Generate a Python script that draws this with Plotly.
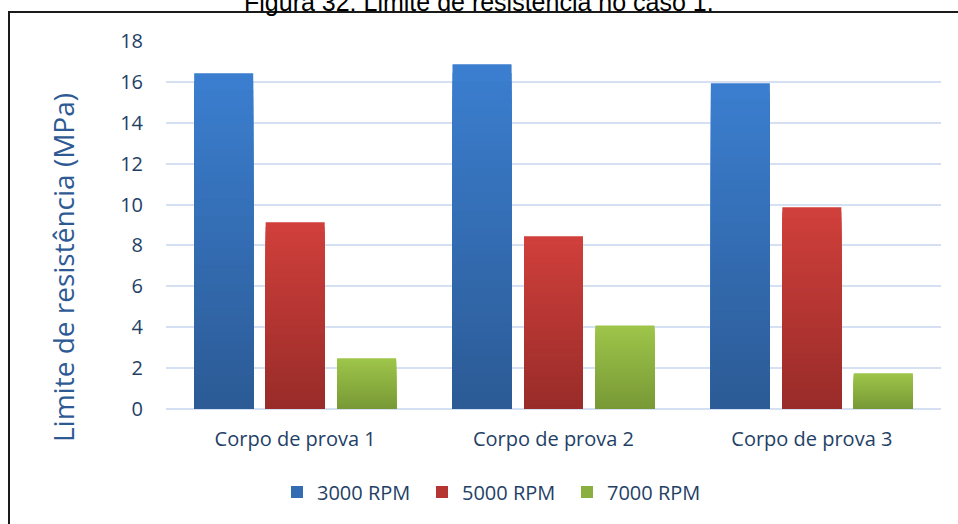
import plotly.graph_objects as go

# Data
categories = ["Corpo de prova 1", "Corpo de prova 2", "Corpo de prova 3"]
series_names = ["3000 RPM", "5000 RPM", "7000 RPM"]
rpm_3000 = [16.42, 16.86, 15.93]
rpm_5000 = [9.13, 8.45, 9.87]
rpm_7000 = [2.48, 4.09, 1.75]
y_ticks = [0, 2, 4, 6, 8, 10, 12, 14, 16, 18]

# Gradient end colours per series (top, bottom)
gradients = [
    ((0x3B, 0x7E, 0xCF), (0x2C, 0x5B, 0x96)),
    ((0xD0, 0x3F, 0x3B), (0x99, 0x2C, 0x29)),
    ((0x9E, 0xC5, 0x4A), (0x78, 0x99, 0x36)),
]

W, H = 958, 524
L, R, T, B = 166, 17, 41, 115
plot_w = W - L - R
plot_h = H - T - B


def px_x(p):
    return (p - L) / plot_w


def px_y(p):
    return (H - B - p) / plot_h


def mix(c1, c2, t):
    return "rgb(%d,%d,%d)" % tuple(round(a + (b - a) * t) for a, b in zip(c1, c2))


fig = go.Figure()

N = 40
all_series = [rpm_3000, rpm_5000, rpm_7000]
for s, (name, vals, (top, bot)) in enumerate(zip(series_names, all_series, gradients)):
    group = "g%d" % s
    # soft drop shadow under each bar
    fig.add_trace(go.Bar(
        x=categories, y=[v + 0.12 for v in vals], base=[-0.16] * 3,
        offsetgroup=group, marker=dict(color="rgba(0,0,0,0.16)", line=dict(width=0)),
        showlegend=False, hoverinfo="skip",
    ))
    # layered bars: each shorter layer is darker, giving a vertical gradient
    for k in range(N):
        frac = k / N
        t = k / (N - 1)
        fig.add_trace(go.Bar(
            x=categories, y=[v * (1 - frac) for v in vals],
            offsetgroup=group, legendgroup=group, name=name,
            marker=dict(color=mix(top, bot, t), line=dict(width=0)),
            showlegend=(k == N // 2),
            hoverinfo="skip" if k else "x+y+name",
        ))

tick_font = dict(family="Open Sans", size=20, color="#243F66")

fig.update_layout(
    width=W, height=H,
    margin=dict(l=L, r=R, t=T, b=B),
    paper_bgcolor="white", plot_bgcolor="white",
    barmode="group", bargap=0.17, bargroupgap=0.175,
    font=dict(family="Open Sans", color="#243F66"),
    xaxis=dict(
        showgrid=False, showline=False, ticks="", tickfont=tick_font,
        ticklabelstandoff=16,
    ),
    yaxis=dict(
        range=[0, 18], tickvals=y_ticks, tickfont=tick_font,
        showgrid=True, gridcolor="#D5E1F3", gridwidth=2,
        zeroline=True, zerolinecolor="#D5E1F3", zerolinewidth=2,
        showline=False, ticks="", ticklabelstandoff=22,
    ),
    legend=dict(
        orientation="h", x=px_x(277), xanchor="left",
        y=px_y(492), yanchor="middle",
        font=dict(family="Open Sans", size=20, color="#243F66"),
        entrywidth=100, entrywidthmode="pixels",
        itemclick=False, itemdoubleclick=False,
        bgcolor="rgba(0,0,0,0)",
    ),
    showlegend=True,
)

# Value axis title
fig.add_annotation(
    text="Limite de resistência (MPa)", textangle=-90,
    xref="paper", yref="paper", x=px_x(63), y=px_y(268),
    xanchor="center", yanchor="middle", showarrow=False,
    font=dict(family="Open Sans", size=28, color="#2E5A94"),
)

# Outer frame of the figure
fig.add_shape(
    type="rect", xref="paper", yref="paper",
    x0=px_x(9), x1=px_x(1010), y0=px_y(560), y1=px_y(12),
    line=dict(color="#1A1A1A", width=2), fillcolor="rgba(0,0,0,0)", layer="below",
)

# Caption above the frame
fig.add_annotation(
    text="Figura 32: Limite de resistência no caso 1.",
    xref="paper", yref="paper", x=px_x(479), y=px_y(2), xanchor="center", yanchor="middle",
    showarrow=False, font=dict(family="Liberation Sans", size=25, color="#000000"),
)

fig.write_html("out.html")
